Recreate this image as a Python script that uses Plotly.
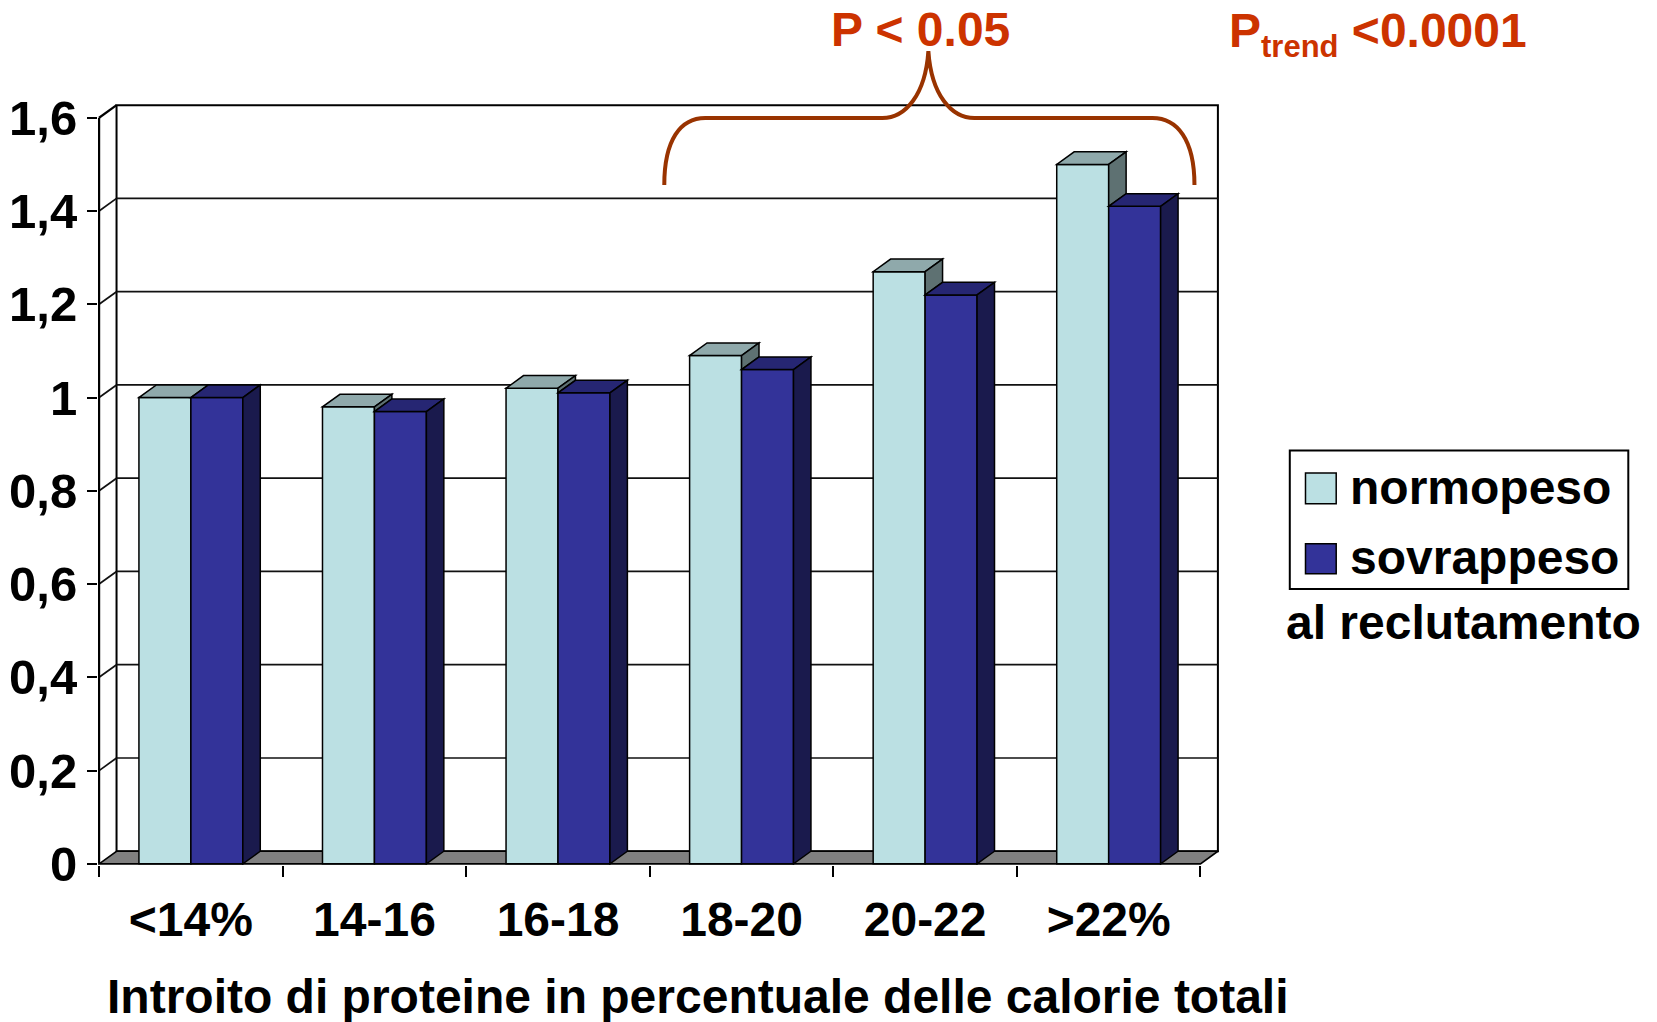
import plotly.graph_objects as go

# ---- data -------------------------------------------------------------
categories = ["<14%", "14-16", "16-18", "18-20", "20-22", ">22%"]
normopeso = [1.00, 0.98, 1.02, 1.09, 1.27, 1.50]
sovrappeso = [1.00, 0.97, 1.01, 1.06, 1.22, 1.41]
series_names = ["normopeso", "sovrappeso"]
y_tickvals = [0, 0.2, 0.4, 0.6, 0.8, 1.0, 1.2, 1.4, 1.6]
y_ticktext = ["0", "0,2", "0,4", "0,6", "0,8", "1", "1,2", "1,4", "1,6"]

# ---- styling ----------------------------------------------------------
FONT = "Liberation Sans, Arial, Helvetica, sans-serif"
FS = 48
LIGHT = ["#BBE0E3", "#8FA9AB", "#5E7172"]   # front, top, side
DARK = ["#333399", "#262673", "#1A1A4D"]
FLOOR = "#808080"
GRID = "#111111"
BRACE = "#993300"
PTEXT = "#CC3300"

W, H = 1657, 1022
PX_PER_CAT = 183.5      # horizontal pixels per category
PX_PER_UNIT = 466.6     # vertical pixels per value unit
FRONT_LEFT_PX = 99.0    # pixel x of the front value axis
ZERO_PX = 864.3         # pixel y of value 0 on the front plane

BAR_W = 0.283           # bar width in category units
DX = 0.095              # depth offset, category units
DY = 0.027              # depth offset, value units
X0, X1 = -0.5, len(categories) - 0.5
YMAX = y_tickvals[-1]
EX, EY = 0.006, 0.0025  # small padding so edge lines are not clipped

x_range = [X0 - EX, X1 + DX + EX]
y_range = [-EY, YMAX + DY + EY]

PLOT_L = FRONT_LEFT_PX - EX * PX_PER_CAT
PLOT_R = PLOT_L + (x_range[1] - x_range[0]) * PX_PER_CAT
PLOT_B = ZERO_PX + EY * PX_PER_UNIT
PLOT_T = PLOT_B - (y_range[1] - y_range[0]) * PX_PER_UNIT


def px_x(px):
    return (px - PLOT_L) / (PLOT_R - PLOT_L)


def px_y(py):
    return (PLOT_B - py) / (PLOT_B - PLOT_T)


shapes = []


def seg(x0, y0, x1, y1, color="black", width=2.0, layer="below"):
    shapes.append(dict(type="line", xref="x", yref="y", x0=x0, y0=y0, x1=x1, y1=y1,
                       layer=layer, line=dict(color=color, width=width)))


def poly(pts, fill, layer="above", lw=1.5, xref="x", yref="y"):
    path = "M" + "L".join(f"{x:.5f},{y:.5f}" for x, y in pts) + "Z"
    shapes.append(dict(type="path", xref=xref, yref=yref, path=path, fillcolor=fill,
                       layer=layer, line=dict(color="black", width=lw)))


# back wall
shapes.append(dict(type="rect", xref="x", yref="y", x0=X0 + DX, y0=DY, x1=X1 + DX, y1=YMAX + DY,
                   fillcolor="white", layer="below", line=dict(color="black", width=2)))
# gridlines on back wall and side wall
for v in y_tickvals[1:-1]:
    seg(X0 + DX, v + DY, X1 + DX, v + DY, color=GRID, width=1.7)
    seg(X0, v, X0 + DX, v + DY, color=GRID, width=1.7)
# floor
poly([(X0, 0), (X1, 0), (X1 + DX, DY), (X0 + DX, DY)], FLOOR, layer="below", lw=1.6)
# front value axis and side wall top edge
seg(X0, 0, X0, YMAX, width=2.2)
seg(X0, YMAX, X0 + DX, YMAX + DY, width=2.2)

# 3D faces of the columns
for i, (vl, vd) in enumerate(zip(normopeso, sovrappeso)):
    xl = i - BAR_W
    xm = i
    xr = i + BAR_W
    # light column: top face and the part of its side above the dark column
    poly([(xl, vl), (xm, vl), (xm + DX, vl + DY), (xl + DX, vl + DY)], LIGHT[1])
    if vl > vd:
        poly([(xm, vd), (xm, vl), (xm + DX, vl + DY), (xm + DX, vd + DY)], LIGHT[2])
    # dark column: top and side faces
    poly([(xm, vd), (xr, vd), (xr + DX, vd + DY), (xm + DX, vd + DY)], DARK[1])
    poly([(xr, 0), (xr, vd), (xr + DX, vd + DY), (xr + DX, DY)], DARK[2])

fig = go.Figure()
fig.add_trace(go.Bar(x=list(range(len(categories))), y=normopeso, width=BAR_W, offset=-BAR_W,
                     name=series_names[0], marker=dict(color=LIGHT[0], line=dict(color="black", width=1.5)),
                     showlegend=False))
fig.add_trace(go.Bar(x=list(range(len(categories))), y=sovrappeso, width=BAR_W, offset=0,
                     name=series_names[1], marker=dict(color=DARK[0], line=dict(color="black", width=1.5)),
                     showlegend=False))

# brace over the last four classes
bp = [(664, 185), (664, 140), (680, 118), (705, 118), (882, 118), (905, 118), (925, 95), (928, 51),
      (931, 95), (951, 118), (974, 118), (1152, 118), (1177, 118), (1194, 140), (1194, 185)]
q = [(px_x(a), px_y(b)) for a, b in bp]
brace_path = (f"M{q[0][0]},{q[0][1]} C{q[1][0]},{q[1][1]} {q[2][0]},{q[2][1]} {q[3][0]},{q[3][1]} "
              f"L{q[4][0]},{q[4][1]} C{q[5][0]},{q[5][1]} {q[6][0]},{q[6][1]} {q[7][0]},{q[7][1]} "
              f"C{q[8][0]},{q[8][1]} {q[9][0]},{q[9][1]} {q[10][0]},{q[10][1]} "
              f"L{q[11][0]},{q[11][1]} C{q[12][0]},{q[12][1]} {q[13][0]},{q[13][1]} {q[14][0]},{q[14][1]}")
shapes.append(dict(type="path", xref="paper", yref="paper", path=brace_path, layer="above",
                   line=dict(color=BRACE, width=4)))

# legend box with swatches
shapes.append(dict(type="rect", xref="paper", yref="paper", x0=px_x(1289.3), x1=px_x(1627.7),
                   y0=px_y(589.3), y1=px_y(450.7), fillcolor="white", line=dict(color="black", width=2)))
for (top, bot), col in zip([(473.3, 504), (544, 574)], [LIGHT[0], DARK[0]]):
    shapes.append(dict(type="rect", xref="paper", yref="paper", x0=px_x(1305), x1=px_x(1335.7),
                       y0=px_y(bot), y1=px_y(top), fillcolor=col, line=dict(color="black", width=1.5)))

bold = dict(family=FONT, size=FS, color="black", weight="bold")
red = dict(family=FONT, size=FS, color=PTEXT, weight="bold")
annotations = [
    dict(text=series_names[0], x=px_x(1347), y=px_y(487.7), xanchor="left", yanchor="middle"),
    dict(text=series_names[1], x=px_x(1347), y=px_y(557.7), xanchor="left", yanchor="middle"),
    dict(text="al reclutamento", x=px_x(1463), y=px_y(622.7), xanchor="center", yanchor="middle"),
    dict(text="Introito di proteine in percentuale delle calorie totali", x=px_x(698), y=px_y(997),
         xanchor="center", yanchor="middle"),
    dict(text="P &lt; 0.05", x=px_x(920.5), y=px_y(29), xanchor="center", yanchor="middle", font=red),
    dict(text="P<sub><span style='font-size:31px'>trend</span></sub> &lt;0.0001", x=px_x(1227),
         y=px_y(1.5), xanchor="left", yanchor="top", font=red),
]
for a in annotations:
    a.setdefault("font", bold)
    a.update(xref="paper", yref="paper", showarrow=False)

fig.update_layout(
    width=W, height=H,
    paper_bgcolor="white", plot_bgcolor="white",
    margin=dict(l=PLOT_L, r=W - PLOT_R, t=PLOT_T, b=H - PLOT_B, autoexpand=False),
    barmode="overlay",
    shapes=shapes,
    annotations=annotations,
    showlegend=False,
    font=dict(family=FONT, color="black"),
)
fig.update_xaxes(
    range=x_range, showgrid=False, zeroline=False, showline=False,
    tickmode="array", tickvals=list(range(len(categories))), ticktext=categories,
    ticks="", tickfont=bold, ticklabelstandoff=22,
    minor=dict(tickmode="array", tickvals=[X0 + k for k in range(len(categories) + 1)],
               ticks="outside", ticklen=11, tickwidth=2, tickcolor="black", showgrid=False),
)
fig.update_yaxes(
    range=y_range, showgrid=False, zeroline=False, showline=False,
    tickmode="array", tickvals=y_tickvals, ticktext=y_ticktext,
    ticks="outside", ticklen=10, tickwidth=2, tickcolor="black",
    tickfont=dict(family=FONT, size=49, color="black", weight="bold"),
    ticklabelstandoff=0,
)

fig.write_html("out.html")
